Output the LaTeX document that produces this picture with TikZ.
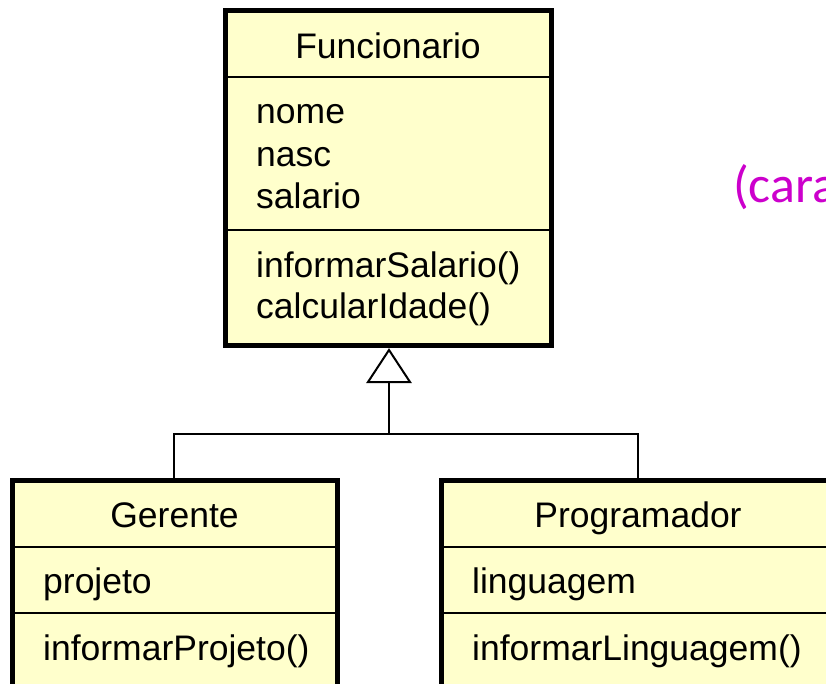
\documentclass[tikz,border=0pt]{standalone}
\usepackage{fontspec}
\setmainfont{Liberation Sans}
\newfontfamily\calib{Carlito}
\definecolor{umlfill}{RGB}{255,255,204}
\definecolor{mag}{RGB}{204,0,204}
\begin{document}
\begin{tikzpicture}[x=1pt,y=-1pt,
  box/.style={draw=black, line width=5pt, fill=umlfill},
  sep/.style={line width=2pt},
  conn/.style={line width=2pt},
  txt/.style={font=\fontsize{35.5}{40}\selectfont, inner sep=0pt},
  ctxt/.style={txt, anchor=base},
  ltxt/.style={txt, anchor=base west}]
\useasboundingbox (0,0) rectangle (826,683);
\clip (0,0) rectangle (826,683);
% Funcionario
\draw[box] (225,10) rectangle (551,345);
\draw[sep] (225,77) -- (551,77);
\draw[sep] (225,230) -- (551,230);
\node[ctxt] (f) at (388,58) {Funcionario};
\node[ltxt] (f1) at (256,123) {nome};
\node[ltxt] (f2) at (256,166) {nasc};
\node[ltxt] (f3) at (256,208) {salario};
\node[ltxt] (f4) at (256,277) {informarSalario()};
\node[ltxt] (f5) at (256,318) {calcularIdade()};
% Gerente
\draw[box] (12,480) rectangle (337,700);
\draw[sep] (12,547) -- (337,547);
\draw[sep] (12,613) -- (337,613);
\node[ctxt] (g) at (174.5,527) {Gerente};
\node[ltxt] (g1) at (43,593) {projeto};
\node[ltxt] (g2) at (43,660) {informarProjeto()};
% Programador
\draw[box] (441,480) rectangle (835,700);
\draw[sep] (441,547) -- (835,547);
\draw[sep] (441,613) -- (835,613);
\node[ctxt] (p) at (638,527) {Programador};
\node[ltxt] (p1) at (472,593) {linguagem};
\node[ltxt] (p2) at (472,660) {informarLinguagem()};
% connectors
\coordinate (apex) at (389,350);
\coordinate (base) at (389,382);
\coordinate (join) at (389,434);
\coordinate (gtop) at (174,478);
\coordinate (ptop) at (638,478);
\draw[conn] (gtop) -- (174,434) -- (638,434) -- (ptop);
\draw[conn] (join) -- (base);
\draw[conn, fill=white, line join=miter] (apex) -- (368,382) -- (410,382) -- cycle;
% magenta text
\node[font=\calib\fontsize{52}{60}\selectfont, text=mag, anchor=base west, inner sep=0pt] (m) at (733,202) {(cara};
\end{tikzpicture}
\end{document}
